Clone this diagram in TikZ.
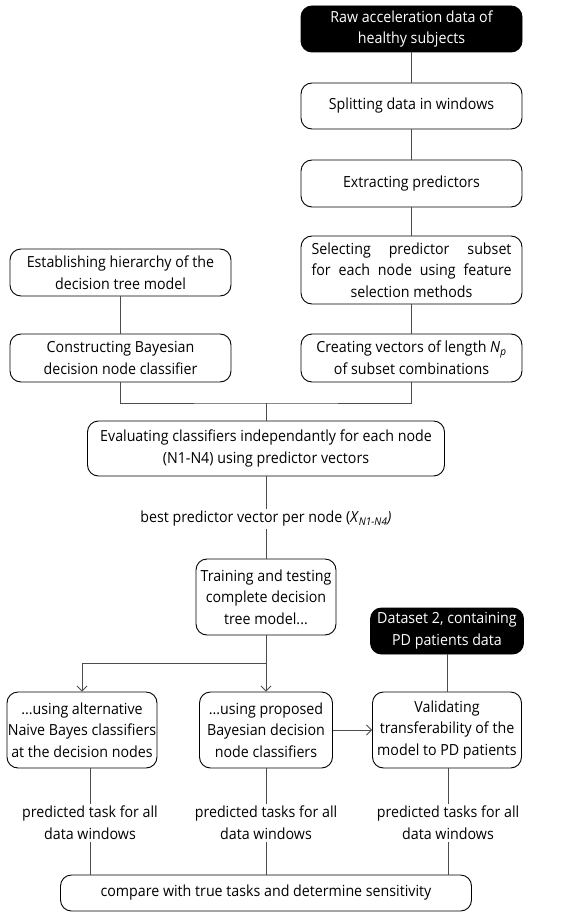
\documentclass[tikz,border=0pt]{standalone}
\usepackage{fontspec}
\setmainfont{Open Sans}[FakeStretch=0.93]
\usetikzlibrary{arrows.meta}
\begin{document}
\begin{tikzpicture}[x=1pt,y=-1pt,
  box/.style={draw=black,line width=0.9pt,rounded corners=11pt,align=center,inner sep=0pt,font=\fontsize{15.3}{21.7}\selectfont},
  darkbox/.style={box,fill=black,text=white},
  lab/.style={align=center,inner sep=2pt,font=\fontsize{15.3}{21.7}\selectfont},
  conn/.style={draw=black!70,line width=0.8pt},
  arr/.style={conn,-{Straight Barb[length=5pt,width=10pt]}}]
\useasboundingbox (0,0) rectangle (582,912);
\node[darkbox,minimum width=221pt,minimum height=46pt] (raw) at (411.5,29) {Raw acceleration data of\\healthy subjects};
\node[box,minimum width=221pt,minimum height=46pt] (split) at (411.5,106) {Splitting data in windows};
\node[box,minimum width=221pt,minimum height=47pt] (extract) at (411.5,183.5) {Extracting predictors};
\node[box,minimum width=221pt,minimum height=68pt] (select) at (411.5,270) {\makebox[200pt][s]{Selecting predictor subset}\\\makebox[200pt][s]{for each node using feature}\\selection methods};
\node[box,minimum width=221pt,minimum height=48pt] (create) at (411.5,358) {Creating vectors of length \textit{N}\textsubscript{\textit{p}}\\of subset combinations};
\node[box,minimum width=221pt,minimum height=47pt] (estab) at (120.5,272.5) {Establishing hierarchy of the\\decision tree model};
\node[box,minimum width=221pt,minimum height=48pt] (constr) at (120.5,358) {Constructing Bayesian\\decision node classifier};
\coordinate (j) at (266,403);
\node[box,minimum width=357pt,minimum height=55pt] (eval) at (266,448.5) {Evaluating classifiers independantly for each node\\(N1-N4) using predictor vectors};
\node[lab] (best) at (266,519) {best predictor vector per node (\textit{X}\textsubscript{\textit{N1-N4}}\textit{)}};
\node[box,minimum width=140pt,minimum height=76pt] (train) at (266,597) {Training and testing\\complete decision\\tree model...};
\node[darkbox,minimum width=153pt,minimum height=46pt] (data2) at (447,631) {Dataset 2, containing\\PD patients data};
\coordinate (k) at (266,663);
\node[box,minimum width=150pt,minimum height=76pt] (alt) at (82,730) {...using alternative\\Naive Bayes classifiers\\at the decision nodes};
\node[box,minimum width=133pt,minimum height=76pt] (prop) at (266,730) {...using proposed\\Bayesian decision\\node classifiers};
\node[box,minimum width=149pt,minimum height=76pt] (valid) at (447,730) {Validating\\transferability of the\\model to PD patients};
\node[lab] (l1) at (90,823) {predicted task for all\\data windows};
\node[lab] (l2) at (266,823) {predicted tasks for all\\data windows};
\node[lab] (l3) at (448,823) {predicted tasks for all\\data windows};
\node[box,minimum width=411pt,minimum height=36pt] (cmp) at (266,893) {compare with true tasks and determine sensitivity};
% connectors
\draw[conn] (raw.south) -- (split.north);
\draw[conn] (split.south) -- (extract.north);
\draw[conn] (extract.south) -- (select.north);
\draw[conn] (select.south) -- (create.north);
\draw[conn] (estab.south) -- (constr.north);
\draw[conn] (constr.south) |- (j) -| (create.south);
\draw[conn] (j) -- (eval.north);
\draw[conn] (eval.south) -- (best.north);
\draw[conn] (best.south) -- (train.north);
\draw[conn] (train.south) -- (k);
\draw[arr] (k) -| (alt.north);
\draw[arr] (k) -- (prop.north);
\draw[conn] (data2.south) -- (valid.north);
\draw[arr] (prop.east) -- (valid.west);
\draw[conn] (l1.north |- alt.south) -- (l1.north);
\draw[conn] (prop.south) -- (l2.north);
\draw[conn] (l3.north |- valid.south) -- (l3.north);
\draw[conn] (l1.south) -- (l1.south |- cmp.north);
\draw[conn] (l2.south) -- (cmp.north);
\draw[conn] (l3.south) -- (l3.south |- cmp.north);
\end{tikzpicture}
\end{document}
